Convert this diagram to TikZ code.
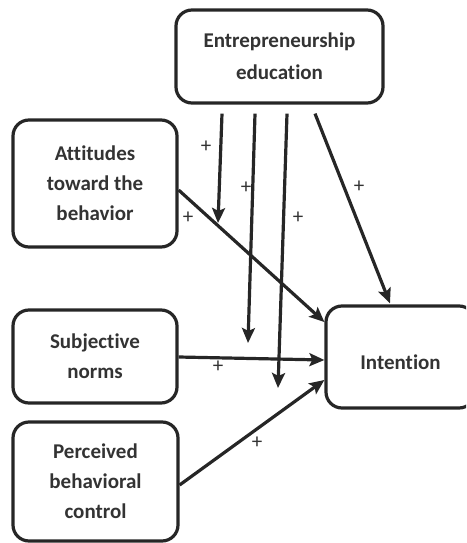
\documentclass[tikz,border=0pt]{standalone}
\usepackage{fontspec}
\setmainfont{Carlito}[Ligatures=NoCommon]
\usetikzlibrary{arrows.meta,calc}
\begin{document}
\begin{tikzpicture}[x=1pt,y=-1pt,
  box/.style={draw=black!85,line width=3.2pt,rounded corners=16pt,inner sep=0pt,align=center,
    font=\fontsize{21}{30}\selectfont\bfseries,text=black!80},
  conn/.style={draw=black!85,line width=3.2pt,-{Stealth[length=15pt,width=13pt,inset=3pt]}},
  plus/.style={font=\fontsize{21}{21}\selectfont,text=black!80,inner sep=0pt}]
\useasboundingbox (0,0) rectangle (466,543);
\clip (0,0) rectangle (466,543);
\node[box,minimum width=207pt,minimum height=93pt,font=\fontsize{21}{32}\selectfont\bfseries] (E) at (279.5,56.5) {Entrepreneurship\\education};
\node[box,minimum width=164pt,minimum height=127pt] (A) at (95,183.5) {Attitudes\\toward the\\behavior};
\node[box,minimum width=164pt,minimum height=93pt] (S) at (95,356.5) {Subjective\\norms};
\node[box,minimum width=165pt,minimum height=119pt] (P) at (95.5,481.5) {Perceived\\behavioral\\control};
\node[box,minimum width=149pt,minimum height=102pt] (I) at (400.5,357) {};
\node[box,draw=none] (It) at ($(I.center)+(0,5)$) {Intention};
% main paths
\draw[conn] ($(A.east)+(0,6.5)$) -- ($(I.west)+(0,-35)$);
\draw[conn] ($(S.east)+(0,0.5)$) -- ($(I.west)+(0,3)$);
\draw[conn] ($(P.east)+(0,3.5)$) -- ($(I.west)+(0,23)$);
% moderating paths
\coordinate (m1) at (218,223);
\coordinate (m2) at (248,343);
\coordinate (m3) at (278,388);
\draw[conn] ($(E.south)+(-57.5,9)$) -- (m1);
\draw[conn] ($(E.south)+(-24.5,9)$) -- (m2);
\draw[conn] ($(E.south)+(7.5,9)$) -- (m3);
\draw[conn] ($(E.south)+(35.5,9)$) -- ($(I.north)+(-10.5,-1)$);
% plus signs
\node[plus] (p1) at (206,147) {+};
\node[plus] (p2) at (246,188) {+};
\node[plus] (p3) at (298,218) {+};
\node[plus] (p4) at (359,187) {+};
\node[plus] (p5) at (188,218) {+};
\node[plus] (p6) at (218,367) {+};
\node[plus] (p7) at (257,443) {+};
\end{tikzpicture}
\end{document}
